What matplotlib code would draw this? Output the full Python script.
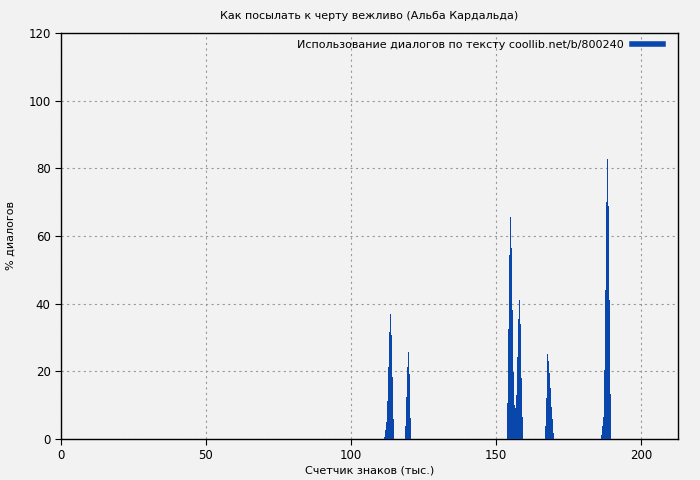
import matplotlib
matplotlib.use("Agg")
import matplotlib.pyplot as plt
from matplotlib.lines import Line2D

# Thousand-character positions and % of dialogue per bin
x_c1 = [111.72, 112.07, 112.41, 112.76, 113.10, 113.45, 113.79, 114.14, 114.48, 114.83]
y_c1 = [0.7, 2.7, 5.0, 11.3, 21.2, 31.6, 37.0, 30.8, 18.2, 6.0]

x_c2 = [118.97, 119.31, 119.66, 120.00, 120.34, 120.69]
y_c2 = [3.8, 12.5, 21.2, 25.7, 19.2, 6.2]

x_c3 = [154.14, 154.48, 154.83, 155.17, 155.52, 155.86, 156.21, 156.55,
        156.90, 157.24, 157.59, 157.93, 158.28, 158.62, 158.97, 159.31]
y_c3 = [10.7, 32.4, 54.3, 65.7, 56.5, 38.1, 19.8, 10.1,
        9.2, 13.1, 24.3, 35.6, 41.1, 34.0, 18.0, 6.6]

x_c4 = [167.24, 167.59, 167.93, 168.28, 168.62, 168.97, 169.31, 169.66, 170.00]
y_c4 = [3.8, 12.1, 25.1, 23.1, 19.4, 15.1, 9.5, 6.0, 1.9]

x_c5 = [186.55, 186.90, 187.24, 187.59, 187.93, 188.28, 188.62, 188.97, 189.31, 189.66]
y_c5 = [1.1, 3.8, 6.6, 20.4, 44.0, 70.0, 82.7, 68.9, 41.1, 13.3]

x_ticks = [0, 50, 100, 150, 200]
y_ticks = [0, 20, 40, 60, 80, 100, 120]

TITLE = "Как посылать к черту вежливо (Альба Кардальда)"
LEGEND = "Использование диалогов по тексту coollib.net/b/800240"
BAR_COLOR = "#0a47ad"
BG = "#f2f2f2"

plt.rcParams["font.family"] = ["DejaVu Sans"]
plt.rcParams["font.size"] = 8

fig = plt.figure(figsize=(7, 4.8), dpi=100, facecolor=BG)
ax = fig.add_axes([61 / 700, 1 - 439 / 480, (678 - 61) / 700, (439 - 33) / 480])
ax.set_facecolor(BG)

xs = x_c1 + x_c2 + x_c3 + x_c4 + x_c5
ys = y_c1 + y_c2 + y_c3 + y_c4 + y_c5
ax.bar(xs, ys, width=0.36, align="center", color=BAR_COLOR, linewidth=0, zorder=3)

ax.set_xlim(0, 212.8)
ax.set_ylim(0, 120)
ax.set_xticks(x_ticks)
ax.set_yticks(y_ticks)
ax.grid(True, color="#999999", linestyle=(0, (2, 3)), linewidth=0.8, zorder=0)
ax.tick_params(direction="out", length=4, color="black", labelsize=8.5)
for s in ax.spines.values():
    s.set_color("black")
    s.set_linewidth(1)

ax.set_title(TITLE, fontsize=8, pad=10)
ax.set_xlabel("Счетчик знаков (тыс.)", fontsize=8, labelpad=2)
ax.set_ylabel("% диалогов", fontsize=8)
ax.yaxis.set_label_coords(-0.074, 0.5)

handle = Line2D([], [], color=BAR_COLOR, linewidth=4)
ax.legend([handle], [LEGEND], loc="upper right", frameon=False, fontsize=8,
          markerfirst=False, handlelength=2.8, handletextpad=0.8,
          borderaxespad=0.2, bbox_to_anchor=(1 - 8 / 617, 1))

fig.savefig("out.png", dpi=100, facecolor=BG)
